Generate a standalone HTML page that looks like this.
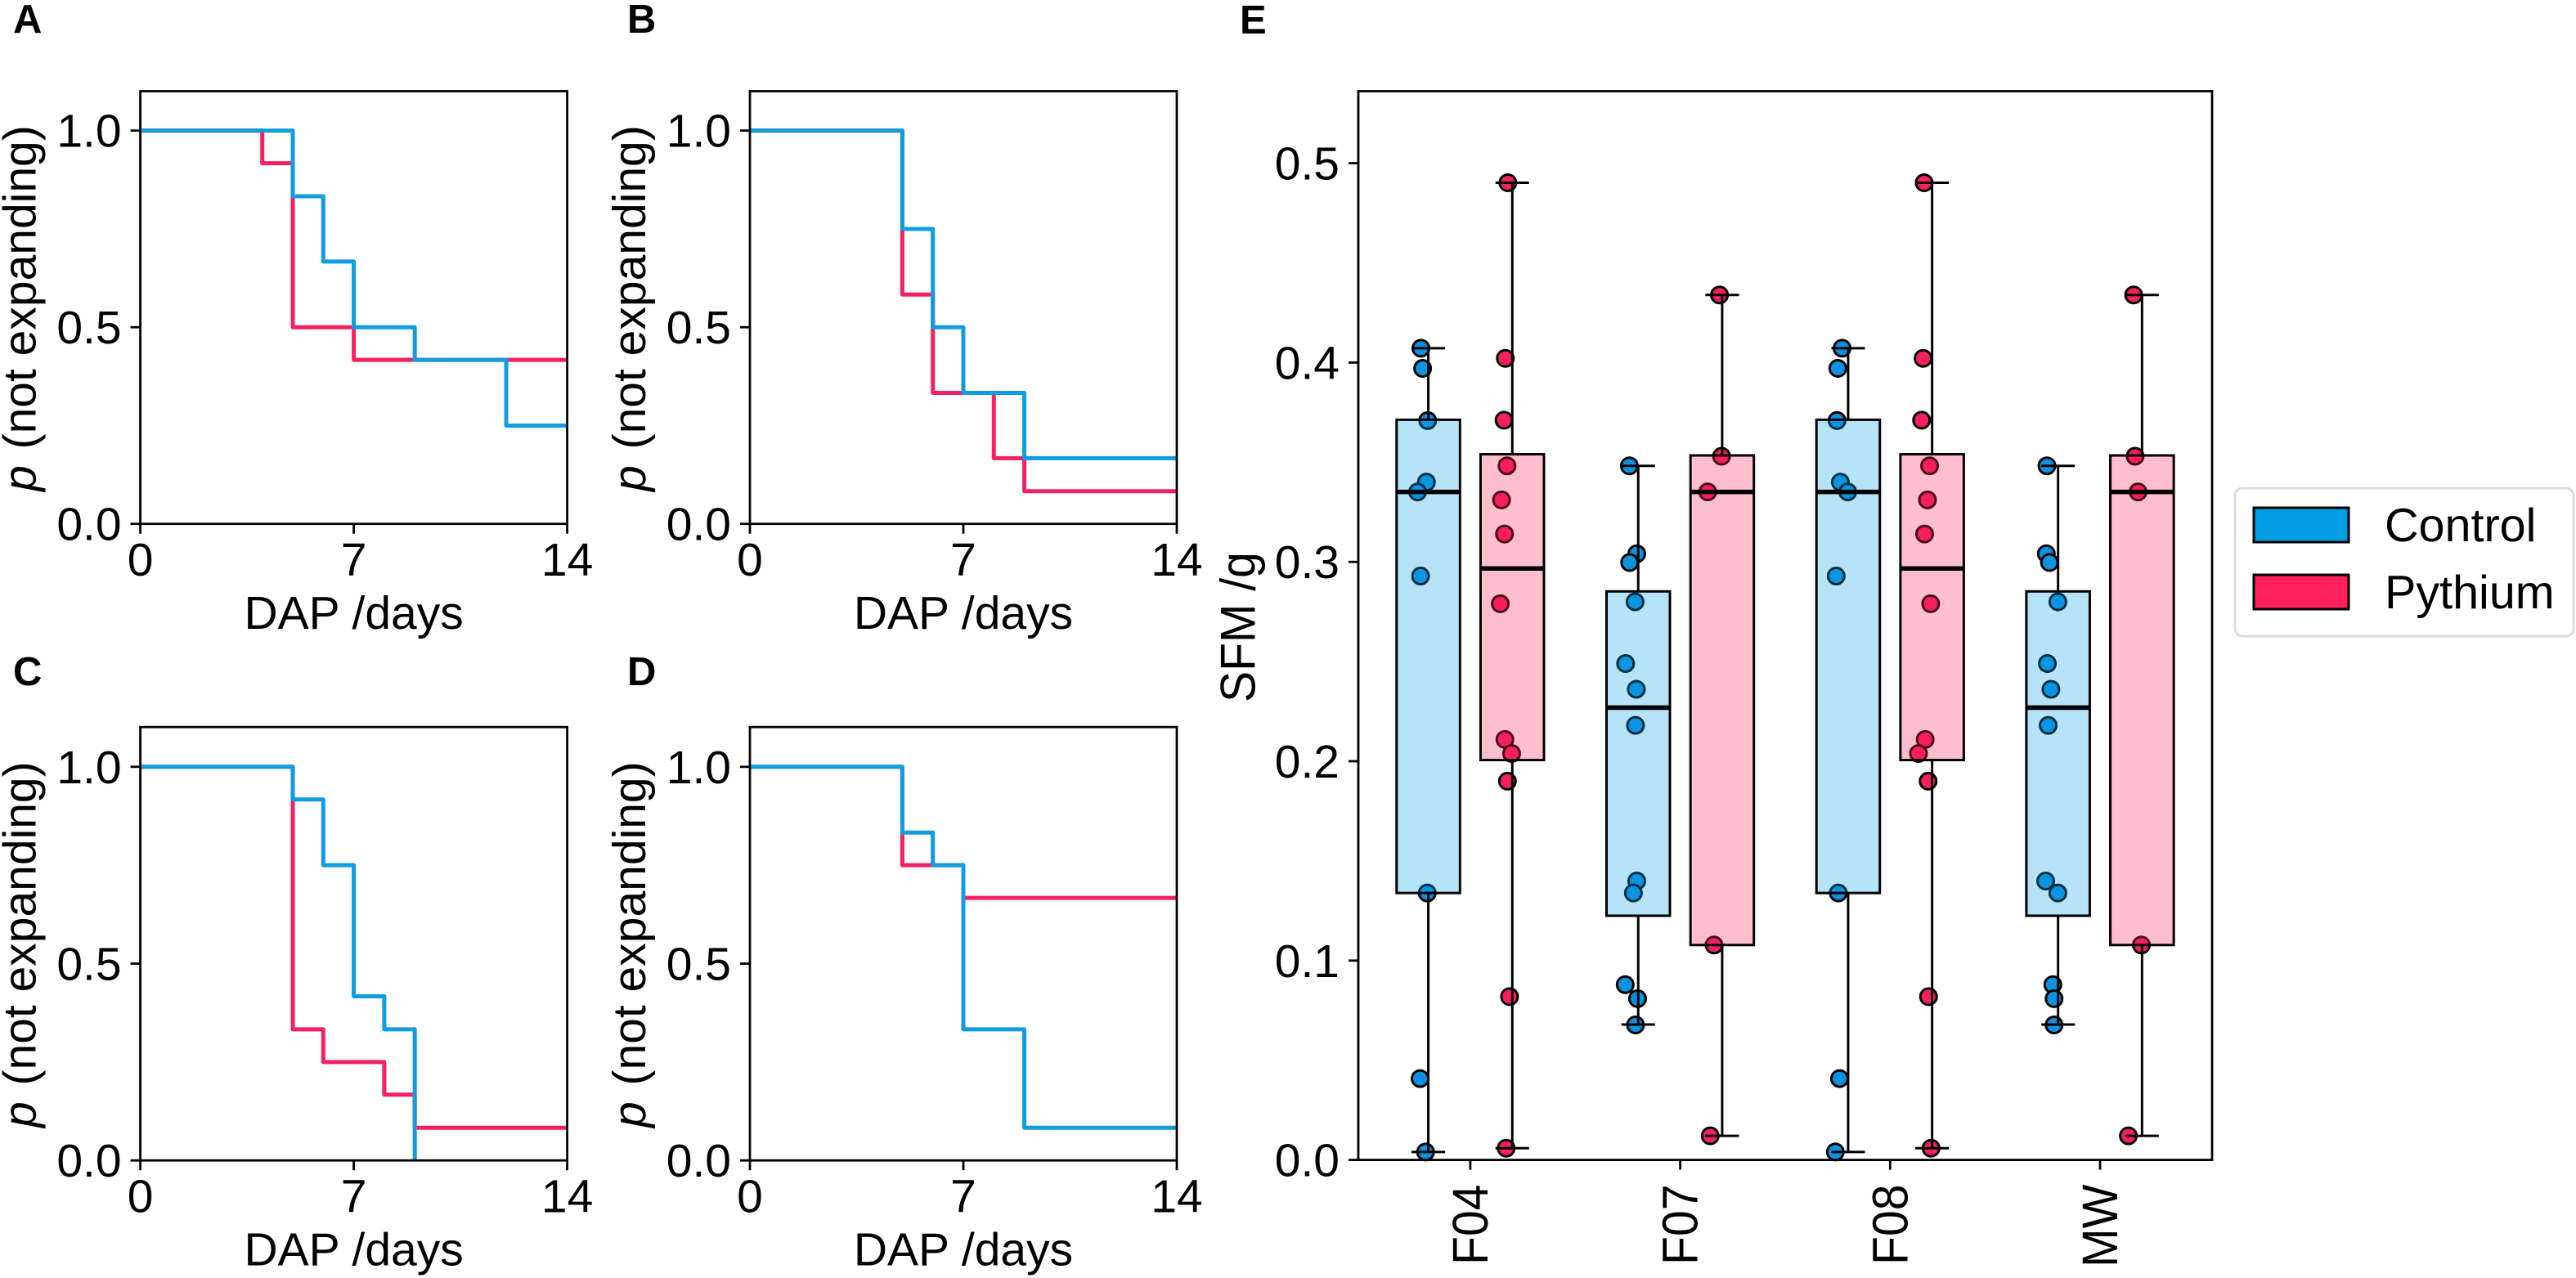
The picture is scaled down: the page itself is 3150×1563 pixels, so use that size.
<!DOCTYPE html>
<html lang="en">
<head>
<meta charset="utf-8">
<title>Expansion survival curves and SFM box plots</title>
<style>
html,body{margin:0;padding:0;background:#fff}
svg{display:block}
text{font-family:"Liberation Sans",Arial,sans-serif;fill:#000}
</style>
</head>
<body>
<svg id="figure" xmlns="http://www.w3.org/2000/svg" width="3150" height="1563" viewBox="0 0 3150 1563">
<rect width="3150" height="1563" fill="#fff"/>
<g id="panels"></g>
<g id="boxplot"></g>
<text x="16" y="40" font-size="49" font-weight="700">A</text>
<text x="767" y="40" font-size="49" font-weight="700">B</text>
<text x="16" y="838" font-size="49" font-weight="700">C</text>
<text x="767" y="838" font-size="49" font-weight="700">D</text>
<text x="1516" y="41" font-size="49" font-weight="700">E</text>
<g>
<rect x="2733" y="597" width="414" height="181" rx="9" fill="#fff" stroke="#dcdcdc" stroke-width="3"/>
<rect x="2756" y="621" width="116" height="42" fill="#009ee3" stroke="#000" stroke-width="3"/>
<text x="2916" y="662" font-size="57.5">Control</text>
<rect x="2756" y="703" width="116" height="42" fill="#ff1f5b" stroke="#000" stroke-width="3"/>
<text x="2916" y="744" font-size="57.5">Pythium</text>
</g>
</svg>
<script>
// Survival curves: breakpoints (days) and the probability from each breakpoint on
const dayTickValues = [0, 7, 14];
const probabilityTickValues = [0, 0.5, 1];
const probabilityTickLabels = ['0.0', '0.5', '1.0'];

const panelAControlDays = [0, 5, 6, 7, 9, 12, 14];
const panelAControlP = [1, 0.833, 0.667, 0.5, 0.417, 0.25, 0.25];
const panelAPythiumDays = [0, 4, 5, 7, 14];
const panelAPythiumP = [1, 0.917, 0.5, 0.417, 0.417];

const panelBControlDays = [0, 5, 6, 7, 9, 14];
const panelBControlP = [1, 0.75, 0.5, 0.333, 0.167, 0.167];
const panelBPythiumDays = [0, 5, 6, 8, 9, 14];
const panelBPythiumP = [1, 0.583, 0.333, 0.167, 0.083, 0.083];

const panelCControlDays = [0, 5, 6, 7, 8, 9];
const panelCControlP = [1, 0.917, 0.75, 0.417, 0.333, 0];
const panelCPythiumDays = [0, 5, 6, 8, 9, 14];
const panelCPythiumP = [1, 0.333, 0.25, 0.167, 0.083, 0.083];

const panelDControlDays = [0, 5, 6, 7, 9, 14];
const panelDControlP = [1, 0.833, 0.75, 0.333, 0.083, 0.083];
const panelDPythiumDays = [0, 5, 7, 14];
const panelDPythiumP = [1, 0.75, 0.667, 0.667];

// Box plot
const sfmTickValues = [0, 0.1, 0.2, 0.3, 0.4, 0.5];
const sfmTickLabels = ['0.0', '0.1', '0.2', '0.3', '0.4', '0.5'];
const groupNames = ['F04', 'F07', 'F08', 'MW'];

const controlLow = [0.004, 0.0679, 0.004, 0.0679];
const controlQ1 = [0.1339, 0.1225, 0.1339, 0.1225];
const controlMedian = [0.3351, 0.2269, 0.3351, 0.2269];
const controlQ3 = [0.3713, 0.2852, 0.3713, 0.2852];
const controlHigh = [0.4072, 0.3482, 0.4072, 0.3482];

const pythiumLow = [0.0059, 0.0121, 0.0059, 0.0121];
const pythiumQ1 = [0.2006, 0.1078, 0.2006, 0.1078];
const pythiumMedian = [0.2967, 0.3351, 0.2967, 0.3351];
const pythiumQ3 = [0.354, 0.3534, 0.354, 0.3534];
const pythiumHigh = [0.4902, 0.4339, 0.4902, 0.4339];

const f04ControlValues = [0.4072, 0.3971, 0.3709, 0.34, 0.3351, 0.2929, 0.1339, 0.0408, 0.004];
const f04ControlJitter = [-0.035, -0.027, -0.003, -0.009, -0.051, -0.037, -0.005, -0.039, -0.013];
const f04PythiumValues = [0.4902, 0.4021, 0.3711, 0.3482, 0.3311, 0.314, 0.279, 0.2109, 0.2039, 0.19, 0.0819, 0.0059];
const f04PythiumJitter = [-0.021, -0.033, -0.039, -0.025, -0.051, -0.037, -0.057, -0.035, -0.003, -0.023, -0.013, -0.029];

const f07ControlValues = [0.3482, 0.3041, 0.2997, 0.28, 0.249, 0.2361, 0.218, 0.1399, 0.1339, 0.0879, 0.0809, 0.0677];
const f07ControlJitter = [-0.042, -0.007, -0.041, -0.015, -0.06, -0.009, -0.013, -0.007, -0.023, -0.062, -0.003, -0.013];
const f07PythiumValues = [0.4339, 0.353, 0.3351, 0.1078, 0.0121];
const f07PythiumJitter = [-0.013, -0.003, -0.069, -0.039, -0.057];

const f08ControlValues = [0.4072, 0.3971, 0.3709, 0.34, 0.3351, 0.2929, 0.1339, 0.0408, 0.004];
const f08ControlJitter = [-0.029, -0.049, -0.053, -0.037, -0.002, -0.057, -0.047, -0.041, -0.061];
const f08PythiumValues = [0.4902, 0.4021, 0.3711, 0.3482, 0.3311, 0.314, 0.279, 0.2109, 0.2039, 0.19, 0.0819, 0.0059];
const f08PythiumJitter = [-0.038, -0.043, -0.05, -0.012, -0.022, -0.036, -0.007, -0.033, -0.065, -0.019, -0.017, -0.005];

const mwControlValues = [0.3482, 0.3041, 0.2997, 0.28, 0.249, 0.2361, 0.218, 0.1399, 0.1339, 0.0879, 0.0809, 0.0677];
const mwControlJitter = [-0.053, -0.056, -0.041, -0.001, -0.051, -0.034, -0.047, -0.059, -0.001, -0.025, -0.019, -0.019];
const mwPythiumValues = [0.4339, 0.353, 0.3351, 0.1078, 0.0121];
const mwPythiumJitter = [-0.04, -0.033, -0.019, -0.003, -0.065];

const NS = 'http://www.w3.org/2000/svg';
const CONTROL_LINE = '#0f9de0';
const PYTHIUM_LINE = '#f5205f';
const CONTROL_FILL = '#009ee3';
const PYTHIUM_FILL = '#ff1f5b';
const CONTROL_POINT = '#0d92e2';
const PYTHIUM_POINT = '#f5205c';
const FONT = 57;

function make(parent, tag, attrs) {
  const el = document.createElementNS(NS, tag);
  for (const k in attrs) el.setAttribute(k, attrs[k]);
  parent.appendChild(el);
  return el;
}

// ---------- survival panels ----------
const panelsRoot = document.getElementById('panels');

function drawSurvival(letter, left, right, top, bottom, yOne, curves) {
  const xOf = d => left + (d / 14) * (right - left);
  const yOf = p => bottom - p * (bottom - yOne);
  const g = make(panelsRoot, 'g', {});
  
  

  const clipId = 'clip-' + letter;
  const defs = make(g, 'defs', {});
  const clip = make(defs, 'clipPath', { id: clipId });
  make(clip, 'rect', { x: left, y: top, width: right - left, height: bottom - top });

  curves.forEach(c => {
    let d = 'M' + xOf(c.days[0]) + ' ' + yOf(c.p[0]);
    for (let i = 1; i < c.days.length; i++) {
      d += 'H' + xOf(c.days[i]) + 'V' + yOf(c.p[i]);
    }
    const line = make(g, 'path', { d: d, fill: 'none', stroke: c.color, 'stroke-width': 5, 'stroke-linejoin': 'round', 'clip-path': 'url(#' + clipId + ')' });
    
    
  });

  const frame = make(g, 'rect', { x: left, y: top, width: right - left, height: bottom - top, fill: 'none', stroke: '#000', 'stroke-width': 2.8 });
  
  

  dayTickValues.forEach(v => {
    const x = xOf(v);
    const tick = make(g, 'line', { x1: x, x2: x, y1: bottom, y2: bottom + 12, stroke: '#000', 'stroke-width': 2.8 });
    
    
    const label = make(g, 'text', { x: x, y: bottom + 63.5, 'font-size': FONT, 'text-anchor': 'middle' });
    
    
    label.textContent = String(v);
  });

  probabilityTickValues.forEach((v, i) => {
    const y = yOf(v);
    const tick = make(g, 'line', { x1: left - 12, x2: left, y1: y, y2: y, stroke: '#000', 'stroke-width': 2.8 });
    
    
    const label = make(g, 'text', { x: left - 23, y: y + 20, 'font-size': FONT, 'text-anchor': 'end' });
    
    
    label.textContent = probabilityTickLabels[i];
  });

  const xTitle = make(g, 'text', { x: (left + right) / 2, y: bottom + 128.5, 'font-size': FONT, 'text-anchor': 'middle' });
  
  
  xTitle.textContent = 'DAP /days';

  const yTitle = make(g, 'text', { transform: 'translate(' + (left - 128) + ' ' + ((top + bottom) / 2 + 1) + ') rotate(-90)', 'font-size': FONT, 'text-anchor': 'middle' });
  
  
  const pSpan = make(yTitle, 'tspan', { 'font-style': 'italic' });
  pSpan.textContent = 'p';
  const restSpan = make(yTitle, 'tspan', { dx: 4 });
  restSpan.textContent = ' (not expanding)';
}

const ROW1 = { top: 111.5, bottom: 640.7, one: 159.7 };
const ROW2 = { top: 889.2, bottom: 1419.2, one: 937.8 };
const COL1 = { left: 171.6, right: 693.6 };
const COL2 = { left: 917, right: 1439 };

drawSurvival('a', COL1.left, COL1.right, ROW1.top, ROW1.bottom, ROW1.one, [
  { name: 'pythium', days: panelAPythiumDays, p: panelAPythiumP, color: PYTHIUM_LINE },
  { name: 'control', days: panelAControlDays, p: panelAControlP, color: CONTROL_LINE }
]);
drawSurvival('b', COL2.left, COL2.right, ROW1.top, ROW1.bottom, ROW1.one, [
  { name: 'pythium', days: panelBPythiumDays, p: panelBPythiumP, color: PYTHIUM_LINE },
  { name: 'control', days: panelBControlDays, p: panelBControlP, color: CONTROL_LINE }
]);
drawSurvival('c', COL1.left, COL1.right, ROW2.top, ROW2.bottom, ROW2.one, [
  { name: 'pythium', days: panelCPythiumDays, p: panelCPythiumP, color: PYTHIUM_LINE },
  { name: 'control', days: panelCControlDays, p: panelCControlP, color: CONTROL_LINE }
]);
drawSurvival('d', COL2.left, COL2.right, ROW2.top, ROW2.bottom, ROW2.one, [
  { name: 'pythium', days: panelDPythiumDays, p: panelDPythiumP, color: PYTHIUM_LINE },
  { name: 'control', days: panelDControlDays, p: panelDControlP, color: CONTROL_LINE }
]);

// ---------- box plot ----------
const boxRoot = document.getElementById('boxplot');
const E = { left: 1661, right: 2705, top: 111.5, bottom: 1418.6 };
const catX = c => 1797.9 + c * 256.7;
const sfmY = v => E.bottom - v * 2438;
const DODGE = 0.2;
const BOX_WIDTH = 0.302;
const CAP_HALF = 0.08;

const pointSets = [
  { group: 0, side: -1, values: f04ControlValues, jitter: f04ControlJitter, color: CONTROL_POINT, name: 'f04-control' },
  { group: 0, side: 1, values: f04PythiumValues, jitter: f04PythiumJitter, color: PYTHIUM_POINT, name: 'f04-pythium' },
  { group: 1, side: -1, values: f07ControlValues, jitter: f07ControlJitter, color: CONTROL_POINT, name: 'f07-control' },
  { group: 1, side: 1, values: f07PythiumValues, jitter: f07PythiumJitter, color: PYTHIUM_POINT, name: 'f07-pythium' },
  { group: 2, side: -1, values: f08ControlValues, jitter: f08ControlJitter, color: CONTROL_POINT, name: 'f08-control' },
  { group: 2, side: 1, values: f08PythiumValues, jitter: f08PythiumJitter, color: PYTHIUM_POINT, name: 'f08-pythium' },
  { group: 3, side: -1, values: mwControlValues, jitter: mwControlJitter, color: CONTROL_POINT, name: 'mw-control' },
  { group: 3, side: 1, values: mwPythiumValues, jitter: mwPythiumJitter, color: PYTHIUM_POINT, name: 'mw-pythium' }
];

pointSets.forEach(set => {
  set.values.forEach((v, i) => {
    const cx = catX(set.group + set.side * DODGE + set.jitter[i]);
    const dot = make(boxRoot, 'circle', { cx: cx, cy: sfmY(v), r: 10, fill: set.color, stroke: '#000', 'stroke-width': 3 });
    
    
  });
});

function drawBox(group, side, low, q1, median, q3, high, fill, name) {
  const c = group + side * DODGE;
  const x0 = catX(c - BOX_WIDTH / 2);
  const x1 = catX(c + BOX_WIDTH / 2);
  const xm = catX(c);
  const fillRect = make(boxRoot, 'rect', { x: x0, y: sfmY(q3), width: x1 - x0, height: sfmY(q1) - sfmY(q3), fill: fill, 'fill-opacity': 0.29 });
  
  
  const outline = make(boxRoot, 'rect', { x: x0, y: sfmY(q3), width: x1 - x0, height: sfmY(q1) - sfmY(q3), fill: 'none', stroke: '#000', 'stroke-width': 3 });
  
  
  const med = make(boxRoot, 'line', { x1: x0, x2: x1, y1: sfmY(median), y2: sfmY(median), stroke: '#000', 'stroke-width': 5.6 });
  
  
  const upper = make(boxRoot, 'line', { x1: xm, x2: xm, y1: sfmY(q3), y2: sfmY(high), stroke: '#000', 'stroke-width': 3 });
  
  
  const lower = make(boxRoot, 'line', { x1: xm, x2: xm, y1: sfmY(q1), y2: sfmY(low), stroke: '#000', 'stroke-width': 3 });
  
  
  const capHigh = make(boxRoot, 'line', { x1: catX(c - CAP_HALF), x2: catX(c + CAP_HALF), y1: sfmY(high), y2: sfmY(high), stroke: '#000', 'stroke-width': 3 });
  
  
  const capLow = make(boxRoot, 'line', { x1: catX(c - CAP_HALF), x2: catX(c + CAP_HALF), y1: sfmY(low), y2: sfmY(low), stroke: '#000', 'stroke-width': 3 });
  
  
}

groupNames.forEach((g, i) => {
  drawBox(i, -1, controlLow[i], controlQ1[i], controlMedian[i], controlQ3[i], controlHigh[i], CONTROL_FILL, g.toLowerCase() + '-control');
  drawBox(i, 1, pythiumLow[i], pythiumQ1[i], pythiumMedian[i], pythiumQ3[i], pythiumHigh[i], PYTHIUM_FILL, g.toLowerCase() + '-pythium');
});

const eFrame = make(boxRoot, 'rect', { x: E.left, y: E.top, width: E.right - E.left, height: E.bottom - E.top, fill: 'none', stroke: '#000', 'stroke-width': 2.8 });



sfmTickValues.forEach((v, i) => {
  const y = sfmY(v);
  const tick = make(boxRoot, 'line', { x1: E.left - 12, x2: E.left, y1: y, y2: y, stroke: '#000', 'stroke-width': 2.8 });
  
  
  const label = make(boxRoot, 'text', { x: E.left - 23, y: y + 20, 'font-size': FONT, 'text-anchor': 'end' });
  
  
  label.textContent = sfmTickLabels[i];
});

groupNames.forEach((g, i) => {
  const x = catX(i);
  const tick = make(boxRoot, 'line', { x1: x, x2: x, y1: E.bottom, y2: E.bottom + 12, stroke: '#000', 'stroke-width': 2.8 });
  
  
  const label = make(boxRoot, 'text', { transform: 'translate(' + (x + 21) + ' ' + (E.bottom + 30) + ') rotate(-90) scale(1 1.08)', 'font-size': FONT, 'text-anchor': 'end' });
  
  
  label.textContent = g;
});

const sfmTitle = make(boxRoot, 'text', { transform: 'translate(1534.5 767) rotate(-90) scale(1 1.06)', 'font-size': FONT, 'text-anchor': 'middle' });


sfmTitle.textContent = 'SFM /g';
</script>
</body>
</html>
